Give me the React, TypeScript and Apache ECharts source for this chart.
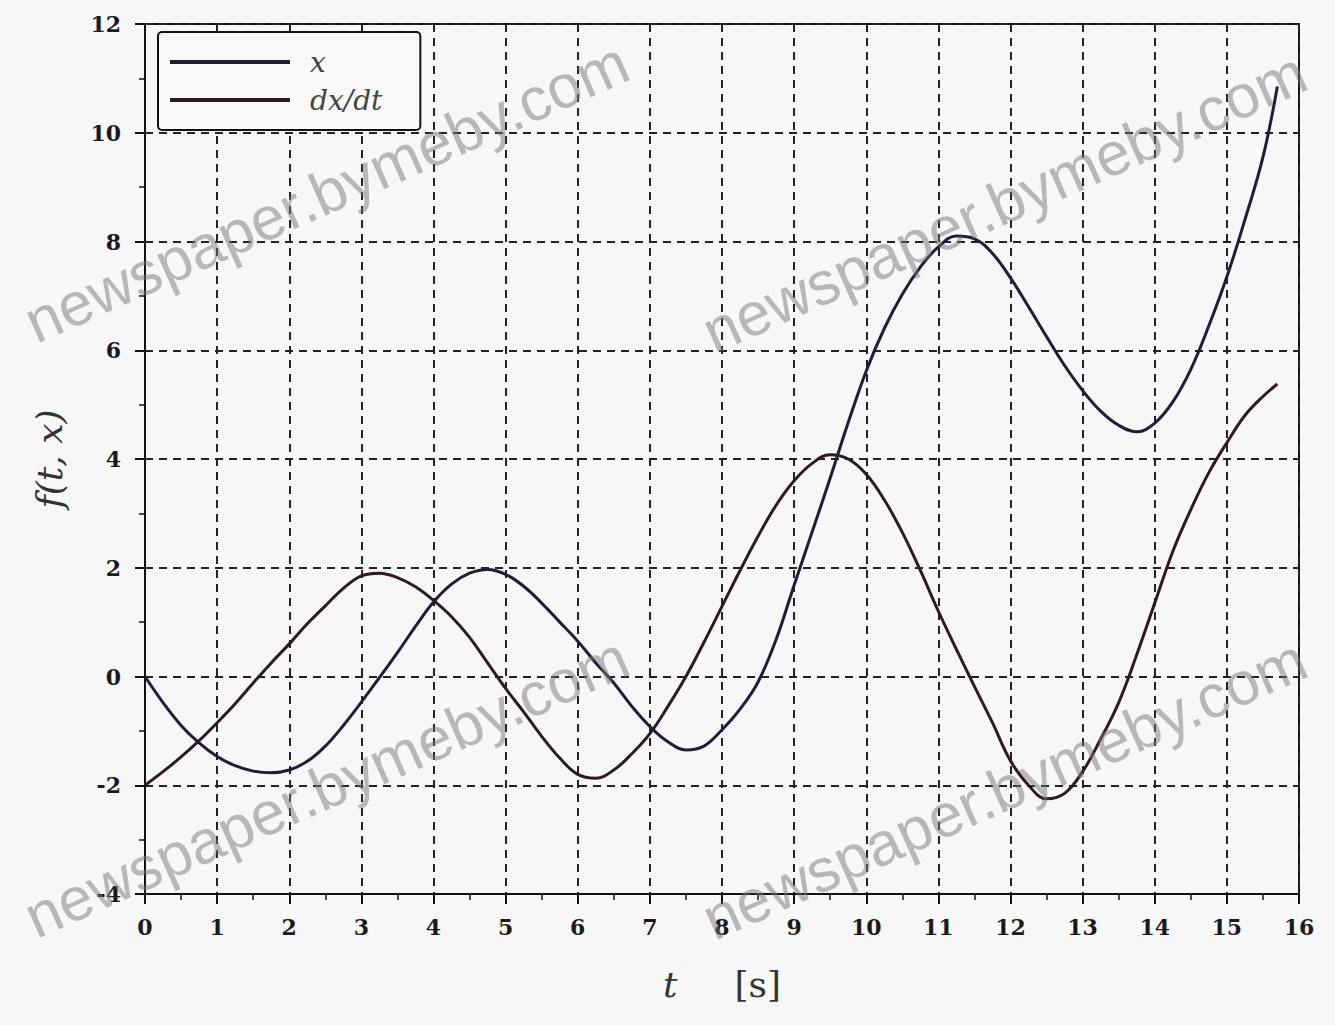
import React, { useEffect, useRef } from "react";
import * as echarts from "echarts";

const T = [0, 0.25, 0.5, 0.75, 1, 1.25, 1.5, 1.75, 2, 2.25, 2.5, 2.75, 3, 3.25, 3.5, 3.75, 4, 4.25, 4.5, 4.75, 5, 5.25, 5.5, 5.75, 6, 6.25, 6.5, 6.75, 7, 7.25, 7.5, 7.75, 8, 8.25, 8.5, 8.75, 9, 9.25, 9.5, 9.75, 10, 10.25, 10.5, 10.75, 11, 11.25, 11.5, 11.75, 12, 12.25, 12.5, 12.75, 13, 13.25, 13.5, 13.75, 14, 14.25, 14.5, 14.75, 15, 15.25, 15.5, 15.7];

const X_VALUES = [0, -0.48, -0.9, -1.22, -1.47, -1.64, -1.74, -1.77, -1.72, -1.56, -1.28, -0.9, -0.47, -0.02, 0.44, 0.92, 1.37, 1.7, 1.9, 1.97, 1.88, 1.66, 1.35, 1.0, 0.65, 0.25, -0.12, -0.55, -0.92, -1.2, -1.35, -1.28, -0.98, -0.6, -0.1, 0.68, 1.68, 2.66, 3.65, 4.67, 5.62, 6.4, 7.03, 7.53, 7.9, 8.1, 8.05, 7.78, 7.33, 6.8, 6.25, 5.72, 5.26, 4.88, 4.62, 4.5, 4.66, 5.05, 5.65, 6.45, 7.35, 8.4, 9.55, 10.85];

const DXDT_VALUES = [-2.0, -1.75, -1.48, -1.18, -0.85, -0.5, -0.12, 0.25, 0.6, 0.97, 1.3, 1.62, 1.85, 1.9, 1.82, 1.65, 1.4, 1.1, 0.72, 0.25, -0.22, -0.65, -1.1, -1.5, -1.8, -1.87, -1.72, -1.42, -1.05, -0.55, 0.0, 0.63, 1.29, 1.95, 2.58, 3.15, 3.6, 3.92, 4.08, 4.0, 3.72, 3.25, 2.65, 1.95, 1.2, 0.5, -0.18, -0.85, -1.55, -2.0, -2.25, -2.15, -1.75, -1.15, -0.48, 0.4, 1.35, 2.3, 3.07, 3.75, 4.3, 4.8, 5.15, 5.38];

const SERIES_NAMES = ["x", "dx/dt"];
const WATERMARK = "newspaper.bymeby.com";

export default function App() {
  const ref = useRef<HTMLDivElement>(null);

  useEffect(() => {
    if (!ref.current) return;
    const chart = echarts.init(ref.current, null, { renderer: "svg" });
    const serif = "DejaVu Serif";
    const wmStyle = (text: string) => ({
      text,
      fontSize: 61,
      fontFamily: "Liberation Sans",
      fill: "rgba(120,120,120,0.5)",
      align: "left",
      verticalAlign: "middle",
      textAlign: "left",
      textVerticalAlign: "middle",
    });
    const rot = (24 * Math.PI) / 180;
    chart.setOption({
      animation: false,
      backgroundColor: "#f7f7f7",
      grid: {
        left: 145,
        right: 36,
        top: 24,
        bottom: 131,
        show: true,
        borderColor: "#111",
        borderWidth: 2,
        backgroundColor: "transparent",
      },
      legend: {
        orient: "vertical",
        left: 158,
        top: 32,
        data: SERIES_NAMES,
        icon: "rect",
        itemWidth: 120,
        itemHeight: 4,
        itemGap: 8,
        padding: [15, 38, 15, 12],
        borderColor: "#111",
        borderWidth: 2,
        borderRadius: 4,
        backgroundColor: "#f8f8f8",
        selectedMode: false,
        textStyle: {
          fontFamily: serif,
          fontStyle: "italic",
          fontSize: 28,
          color: "#444",
          lineHeight: 30,
          padding: [0, 0, 0, 15],
        },
      },
      xAxis: {
        type: "value",
        min: 0,
        max: 16,
        interval: 1,
        name: "{it|t}     [s]",
        nameLocation: "middle",
        nameGap: 72,
        nameTextStyle: {
          fontFamily: serif,
          fontSize: 36,
          color: "#333",
          rich: {
            it: { fontFamily: serif, fontStyle: "italic", fontSize: 36, color: "#333" },
          },
        },
        axisLine: { show: true, onZero: false, lineStyle: { color: "#111", width: 2 } },
        axisTick: { show: true, inside: false, length: 10, lineStyle: { color: "#111", width: 2 } },
        minorTick: { show: true, splitNumber: 2, length: 6, lineStyle: { color: "#111", width: 1.5 } },
        axisLabel: { fontFamily: serif, fontSize: 22, fontWeight: "bold", color: "#1a1a1a", margin: 22 },
        splitLine: { show: true, lineStyle: { color: "#222", width: 2, type: [8, 6] } },
      },
      yAxis: {
        type: "value",
        min: -4,
        max: 12,
        interval: 2,
        name: "f(t, x)",
        nameLocation: "middle",
        nameGap: 78,
        nameTextStyle: { fontFamily: serif, fontStyle: "italic", fontSize: 36, color: "#333" },
        axisLine: { show: true, onZero: false, lineStyle: { color: "#111", width: 2 } },
        axisTick: { show: true, inside: false, length: 10, lineStyle: { color: "#111", width: 2 } },
        minorTick: { show: true, splitNumber: 2, length: 6, lineStyle: { color: "#111", width: 1.5 } },
        axisLabel: { fontFamily: serif, fontSize: 22, fontWeight: "bold", color: "#1a1a1a", margin: 24 },
        splitLine: { show: true, lineStyle: { color: "#222", width: 2, type: [8, 6] } },
      },
      series: [
        {
          name: SERIES_NAMES[0],
          type: "line",
          data: T.map((t, i) => [t, X_VALUES[i]]),
          smooth: 0.4,
          showSymbol: false,
          symbol: "none",
          color: "#1e1e3c",
          lineStyle: { color: "#1e1e3c", width: 3 },
          itemStyle: { color: "#1e1e3c" },
          z: 3,
        },
        {
          name: SERIES_NAMES[1],
          type: "line",
          data: T.map((t, i) => [t, DXDT_VALUES[i]]),
          smooth: 0.4,
          showSymbol: false,
          symbol: "none",
          color: "#2e1a22",
          lineStyle: { color: "#2e1a22", width: 3 },
          itemStyle: { color: "#2e1a22" },
          z: 3,
        },
      ],
      graphic: [
        { type: "text", x: 28, y: 325, rotation: rot, z: 100, silent: true, style: wmStyle(WATERMARK) },
        { type: "text", x: 706, y: 335, rotation: rot, z: 100, silent: true, style: wmStyle(WATERMARK) },
        { type: "text", x: 28, y: 920, rotation: rot, z: 100, silent: true, style: wmStyle(WATERMARK) },
        { type: "text", x: 706, y: 922, rotation: rot, z: 100, silent: true, style: wmStyle(WATERMARK) },
      ],
    });
    return () => chart.dispose();
  }, []);

  return (
    <div
      ref={ref}
      style={{ position: "fixed", left: 0, top: 0, width: 1335, height: 1025 }}
    />
  );
}
